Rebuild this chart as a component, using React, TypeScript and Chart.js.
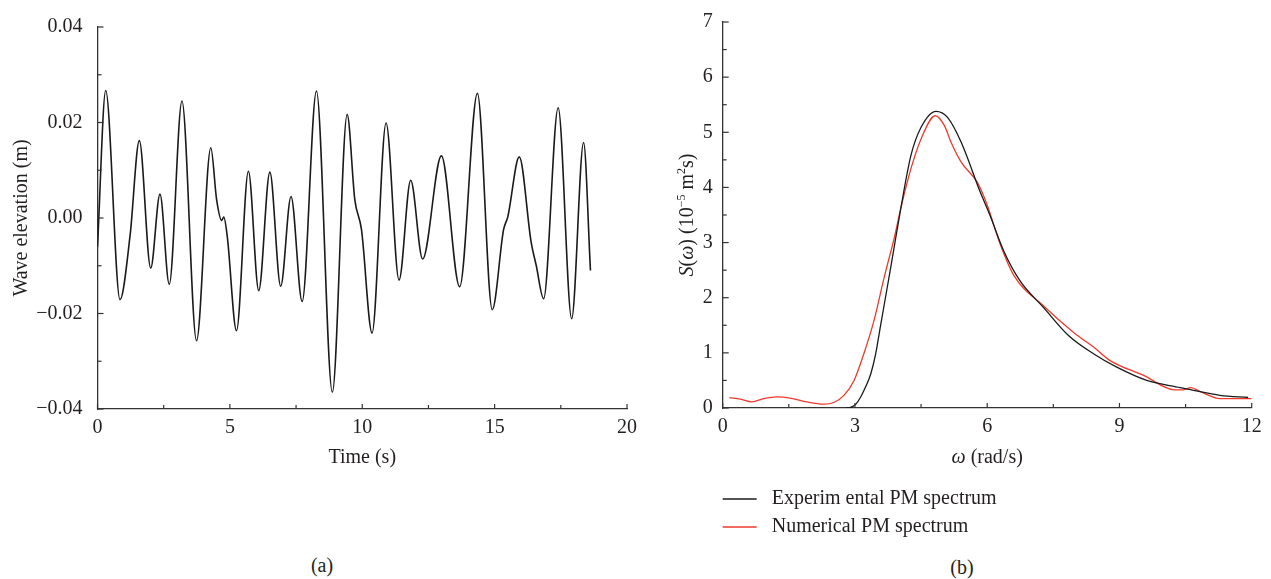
import React, { useEffect, useRef } from 'react';
import { Chart, registerables } from 'chart.js';

Chart.register(...registerables);

const FONT = '"Liberation Serif", "Times New Roman", serif';
const TEXT = '#231f20';
const AXIS = '#333333';

// (a) wave elevation time series (s, m)
const waveTime = [0, 0.31, 0.85, 1.23, 1.58, 2.01, 2.36, 2.71, 3.19, 3.74, 4.28, 4.5, 4.69, 4.77, 4.9, 5.25, 5.7, 6.09, 6.51, 6.92, 7.31, 7.73, 8.27, 8.87, 9.43, 9.72, 9.97, 10.37, 10.9, 11.39, 11.83, 12.28, 12.99, 13.68, 14.35, 14.91, 15.34, 15.5, 15.93, 16.38, 16.57, 16.85, 17.4, 17.91, 18.36, 18.62];
const waveElevation = [-0.006, 0.0267, -0.0171, -0.0037, 0.0162, -0.0105, 0.005, -0.0139, 0.0245, -0.0257, 0.0147, 0.0038, -0.0005, 0.0002, -0.0038, -0.0236, 0.0098, -0.0152, 0.0096, -0.0143, 0.0045, -0.0175, 0.0266, -0.0365, 0.0217, 0.0038, -0.0024, -0.0241, 0.0199, -0.013, 0.0079, -0.0086, 0.013, -0.0144, 0.0261, -0.0192, -0.0024, 0.0003, 0.0128, -0.0051, -0.0099, -0.0169, 0.0231, -0.0211, 0.0158, -0.011];

// (b) spectra (rad/s, 10^-5 m^2 s)
const expOmega = [2.8, 2.9, 3.02, 3.13, 3.24, 3.36, 3.47, 3.58, 3.81, 4.04, 4.27, 4.5, 4.84, 5.1, 5.41, 5.84, 6.06, 6.38, 6.75, 7.28, 7.85, 8.42, 8.94, 9.62, 10.38, 10.68, 11.28, 11.92];
const expS = [0, 0.01, 0.07, 0.2, 0.38, 0.62, 0.98, 1.49, 2.54, 3.62, 4.58, 5.09, 5.38, 5.27, 4.82, 3.92, 3.5, 2.84, 2.3, 1.82, 1.31, 0.98, 0.74, 0.5, 0.37, 0.32, 0.23, 0.19];
const numOmega = [0.15, 0.4, 0.66, 0.93, 1.23, 1.53, 1.91, 2.29, 2.52, 2.75, 2.98, 3.2, 3.43, 3.66, 3.89, 4.04, 4.27, 4.5, 4.82, 5.03, 5.18, 5.41, 5.77, 5.88, 6.0, 6.3, 6.6, 7.28, 7.96, 8.42, 8.79, 9.55, 10.25, 10.45, 10.62, 10.85, 11.28, 12.0];
const numS = [0.19, 0.16, 0.11, 0.17, 0.2, 0.18, 0.11, 0.07, 0.1, 0.23, 0.5, 0.98, 1.58, 2.36, 3.08, 3.62, 4.34, 4.88, 5.3, 5.12, 4.82, 4.46, 4.1, 3.92, 3.68, 2.96, 2.41, 1.85, 1.37, 1.1, 0.86, 0.59, 0.33, 0.33, 0.37, 0.29, 0.17, 0.17];

const expLabel = 'Experim ental PM spectrum';
const numLabel = 'Numerical PM spectrum';

const inwardTicks = {
  id: 'inwardTicks',
  afterDatasetsDraw(chart: any, _args: any, opts: any) {
    const { ctx, chartArea } = chart;
    const xs = chart.scales.x;
    const ys = chart.scales.y;
    ctx.save();
    ctx.strokeStyle = AXIS;
    ctx.lineWidth = 1.2;
    const eps = 1e-9;
    const nx = Math.round((xs.max - xs.min) / opts.xMinor);
    for (let i = 0; i <= nx; i++) {
      const v = xs.min + i * opts.xMinor;
      const major = Math.abs(v / opts.xMajor - Math.round(v / opts.xMajor)) < 1e-6;
      const px = xs.getPixelForValue(v);
      const len = major ? 5 : 4;
      ctx.beginPath();
      ctx.moveTo(px, chartArea.bottom);
      ctx.lineTo(px, chartArea.bottom - len);
      ctx.stroke();
    }
    const ny = Math.round((ys.max - ys.min) / opts.yMinor + eps);
    for (let i = 0; i <= ny; i++) {
      const v = ys.min + i * opts.yMinor;
      const major = Math.abs(v / opts.yMajor - Math.round(v / opts.yMajor)) < 1e-6;
      const py = ys.getPixelForValue(v);
      const len = major ? 6 : 4;
      ctx.beginPath();
      ctx.moveTo(chartArea.left, py);
      ctx.lineTo(chartArea.left + len, py);
      ctx.stroke();
    }
    ctx.restore();
  },
};

type Seg = { t: string; italic?: boolean; sup?: boolean };

function drawRich(ctx: CanvasRenderingContext2D, segs: Seg[], cx: number, cy: number, rotate: boolean, size: number) {
  ctx.save();
  ctx.translate(cx, cy);
  if (rotate) ctx.rotate(-Math.PI / 2);
  const fontFor = (s: Seg) => `${s.italic ? 'italic ' : ''}${s.sup ? Math.round(size * 0.62) : size}px ${FONT}`;
  let total = 0;
  for (const s of segs) {
    ctx.font = fontFor(s);
    total += ctx.measureText(s.t).width;
  }
  let x = -total / 2;
  ctx.textBaseline = 'middle';
  ctx.textAlign = 'left';
  ctx.fillStyle = TEXT;
  for (const s of segs) {
    ctx.font = fontFor(s);
    ctx.fillText(s.t, x, s.sup ? -size * 0.33 : 0);
    x += ctx.measureText(s.t).width;
  }
  ctx.restore();
}

const rightTitles = {
  id: 'rightTitles',
  afterDraw(chart: any) {
    const { ctx, chartArea } = chart;
    drawRich(ctx, [{ t: 'ω', italic: true }, { t: ' (rad/s)' }], (chartArea.left + chartArea.right) / 2, 458, false, 20);
    drawRich(
      ctx,
      [
        { t: 'S', italic: true },
        { t: '(' },
        { t: 'ω', italic: true },
        { t: ') (10' },
        { t: '−5', sup: true },
        { t: ' m' },
        { t: '2', sup: true },
        { t: 's)' },
      ],
      38,
      (chartArea.top + chartArea.bottom) / 2,
      true,
      20
    );
  },
};

const legendBelow = {
  id: 'legendBelow',
  afterDraw(chart: any) {
    const { ctx, chartArea } = chart;
    const rows = [91, 119];
    chart.data.datasets.forEach((ds: any, i: number) => {
      const y = chartArea.bottom + rows[i];
      ctx.save();
      ctx.strokeStyle = ds.borderColor;
      ctx.lineWidth = 1.5;
      ctx.beginPath();
      ctx.moveTo(chartArea.left, y);
      ctx.lineTo(chartArea.left + 34, y);
      ctx.stroke();
      ctx.font = `20px ${FONT}`;
      ctx.fillStyle = TEXT;
      ctx.textBaseline = 'middle';
      ctx.textAlign = 'left';
      ctx.fillText(ds.label, chartArea.left + 49, y);
      ctx.restore();
    });
  },
};

const tickFont = { family: FONT, size: 20 };

function leftConfig(): any {
  return {
    type: 'line',
    data: {
      datasets: [
        {
          label: 'Wave elevation',
          data: waveTime.map((t, i) => ({ x: t, y: waveElevation[i] })),
          borderColor: '#1a1a1a',
          borderWidth: 1.6,
          pointRadius: 0,
          fill: false,
          cubicInterpolationMode: 'monotone',
        },
      ],
    },
    options: {
      responsive: false,
      animation: false,
      layout: { padding: { top: 20, right: 23, bottom: 70, left: 0 } },
      plugins: {
        legend: { display: false },
        tooltip: { enabled: false },
        inwardTicks: { xMinor: 2.5, xMajor: 5, yMinor: 0.01, yMajor: 0.02 },
      },
      scales: {
        x: {
          type: 'linear',
          min: 0,
          max: 20,
          afterFit: (s: any) => {
            s.height = 61;
          },
          grid: { display: false, drawTicks: false },
          border: { display: true, color: AXIS, width: 1.3 },
          ticks: { stepSize: 5, padding: 7, color: TEXT, font: tickFont, maxRotation: 0, autoSkip: false },
          title: { display: true, text: 'Time (s)', color: TEXT, font: tickFont, padding: { top: 0, bottom: 0 } },
        },
        y: {
          type: 'linear',
          min: -0.04,
          max: 0.04,
          afterFit: (s: any) => {
            s.width = 97.5;
          },
          grid: { display: false, drawTicks: false },
          border: { display: true, color: AXIS, width: 1.3 },
          ticks: {
            stepSize: 0.02,
            padding: 15,
            color: TEXT,
            font: tickFont,
            autoSkip: false,
            callback: (v: number) => (Math.abs(v) < 1e-9 ? '0.00' : v.toFixed(2).replace('-', '−')),
          },
          title: { display: true, text: 'Wave elevation (m)', color: TEXT, font: tickFont, padding: { top: 10, bottom: 0 } },
        },
      },
    },
    plugins: [inwardTicks],
  };
}

function rightConfig(): any {
  return {
    type: 'line',
    data: {
      datasets: [
        {
          label: expLabel,
          data: expOmega.map((w, i) => ({ x: w, y: expS[i] })),
          borderColor: '#1a1a1a',
          borderWidth: 1.3,
          pointRadius: 0,
          fill: false,
          cubicInterpolationMode: 'monotone',
        },
        {
          label: numLabel,
          data: numOmega.map((w, i) => ({ x: w, y: numS[i] })),
          borderColor: '#ee3a2c',
          borderWidth: 1.3,
          pointRadius: 0,
          fill: false,
          cubicInterpolationMode: 'monotone',
        },
      ],
    },
    options: {
      responsive: false,
      animation: false,
      layout: { padding: { top: 19, right: 19.3, bottom: 70, left: 0 } },
      plugins: {
        legend: { display: false },
        tooltip: { enabled: false },
        inwardTicks: { xMinor: 1.5, xMajor: 3, yMinor: 0.5, yMajor: 1 },
      },
      scales: {
        x: {
          type: 'linear',
          min: 0,
          max: 12,
          afterFit: (s: any) => {
            s.height = 62;
          },
          grid: { display: false, drawTicks: false },
          border: { display: true, color: AXIS, width: 1.3 },
          ticks: { stepSize: 3, padding: 7, color: TEXT, font: tickFont, maxRotation: 0, autoSkip: false },
          title: { display: false },
        },
        y: {
          type: 'linear',
          min: 0,
          max: 7,
          afterFit: (s: any) => {
            s.width = 72.7;
          },
          grid: { display: false, drawTicks: false },
          border: { display: true, color: AXIS, width: 1.3 },
          ticks: { stepSize: 1, padding: 10, color: TEXT, font: tickFont, autoSkip: false },
          title: { display: false },
        },
      },
    },
    plugins: [inwardTicks, rightTitles, legendBelow],
  };
}

export default function App() {
  const leftRef = useRef<HTMLCanvasElement>(null);
  const rightRef = useRef<HTMLCanvasElement>(null);

  useEffect(() => {
    const c1 = new Chart(leftRef.current as HTMLCanvasElement, leftConfig());
    const c2 = new Chart(rightRef.current as HTMLCanvasElement, rightConfig());
    return () => {
      c1.destroy();
      c2.destroy();
    };
  }, []);

  const caption: React.CSSProperties = {
    position: 'absolute',
    transform: 'translateX(-50%)',
    fontSize: 20,
    lineHeight: '24px',
    color: TEXT,
    fontFamily: FONT,
    whiteSpace: 'nowrap',
  };

  return (
    <div style={{ position: 'fixed', left: 0, top: 0, width: 1271, height: 579, background: '#ffffff', overflow: 'hidden' }}>
      <canvas ref={leftRef} width={650} height={540} style={{ position: 'absolute', left: 0, top: 0, width: 650, height: 540 }} />
      <canvas ref={rightRef} width={621} height={540} style={{ position: 'absolute', left: 650, top: 0, width: 621, height: 540 }} />
      <div style={{ ...caption, left: 322, top: 553 }}>(a)</div>
      <div style={{ ...caption, left: 962, top: 555 }}>(b)</div>
    </div>
  );
}
